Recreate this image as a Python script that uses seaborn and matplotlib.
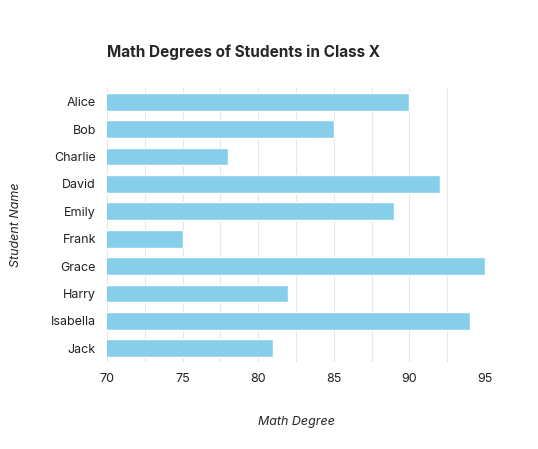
import matplotlib
matplotlib.use("Agg")
import matplotlib.pyplot as plt
import seaborn as sns
import pandas as pd
import numpy as np

students = ["Alice", "Bob", "Charlie", "David", "Emily", "Frank",
            "Grace", "Harry", "Isabella", "Jack"]
degrees = [90, 85, 78, 92, 89, 75, 95, 82, 94, 81]

sns.set_theme(style="white")
plt.rcParams["font.family"] = ["Inter", "DejaVu Sans"]

df = pd.DataFrame({"Student Name": students, "Math Degree": degrees})

fig = plt.figure(figsize=(5.38, 4.49), dpi=100)
ax = fig.add_axes([107 / 538, 1 - 362 / 449, 378 / 538, 274 / 449])
sns.barplot(data=df, y="Student Name", x="Math Degree", color="#87CEEB",
            width=0.65, saturation=1, ax=ax, zorder=3)
ax.set_xlim(70, 95)
ax.set_xticks(np.arange(70, 96, 5))
ax.set_xticks(np.arange(70, 96, 2.5), minor=True)
ax.grid(axis="x", which="both", color="#e6e6e6", lw=0.8, zorder=0)
for s in ax.spines.values():
    s.set_visible(False)
ax.tick_params(axis="both", length=0, labelsize=9, colors="#222222", pad=8)
ax.set_xlabel("Math Degree", fontstyle="italic", fontsize=9, labelpad=22)
ax.set_ylabel("Student Name", fontstyle="italic", fontsize=9)
ax.yaxis.set_label_coords(-85 / 378, 0.5)
ax.set_title("Math Degrees of Students in Class X", loc="left",
             fontweight="bold", fontsize=11, pad=22)
fig.savefig("out.png", dpi=100)
